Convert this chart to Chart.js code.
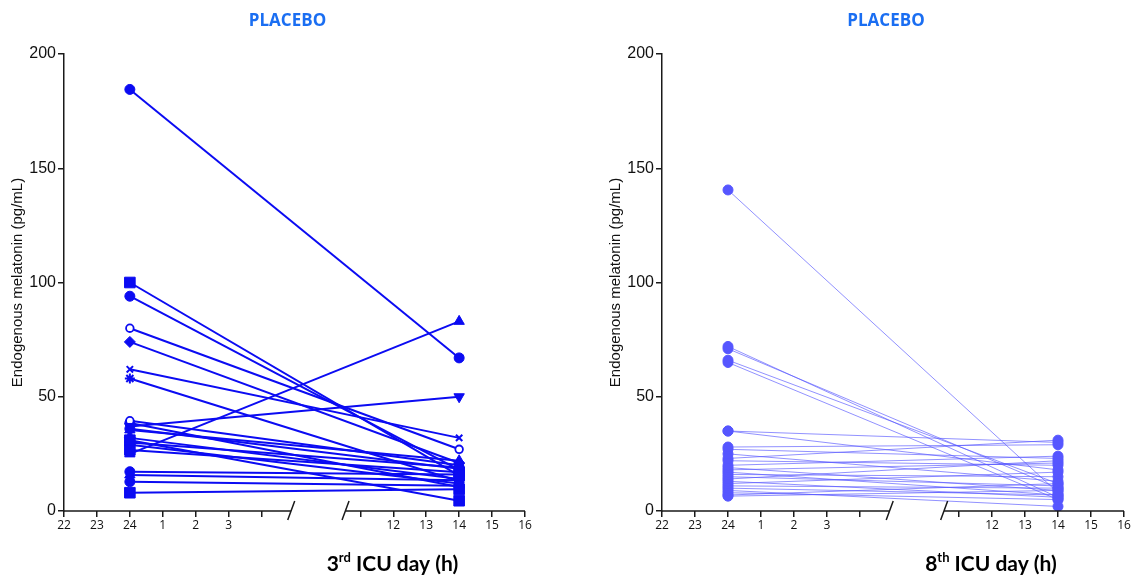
<!DOCTYPE html>
<html>
<head>
<meta charset="utf-8">
<script src="https://cdn.jsdelivr.net/npm/chart.js@4.4.1/dist/chart.umd.min.js"></script>
<style>
  html, body { margin: 0; padding: 0; background: #fff; }
  #wrap { position: relative; width: 1137px; height: 578px; }
  .panel { position: absolute; top: 0; height: 578px; }
  #p3 { left: 0; width: 598px; }
  #p8 { left: 598px; width: 539px; }
</style>
</head>
<body>
<div id="wrap">
  <div class="panel" id="p3"><canvas id="chart3"></canvas></div>
  <div class="panel" id="p8"><canvas id="chart8"></canvas></div>
</div>
<script>
// Hour axis (slots 7 and 8 are the axis break)
const hourLabels = ['22', '23', '24', '1', '2', '3', '', '', '', '', '12', '13', '14', '15', '16'];
const tickSlots = [0, 1, 2, 3, 4, 5, 6, 9, 10, 11, 12, 13, 14];
const sampleHours = ['24', '14'];
const yTicks = [0, 50, 100, 150, 200];

// 3rd ICU day, one value per patient at 24h and at 14h
const day3At24 = [184.5, 100, 94, 80, 74, 62, 58, 25, 37, 31, 39.5, 36, 35.5, 32, 30, 29, 26.7, 38.5, 17.2, 15.8, 12.8, 8];
const day3At14 = [67, 15.5, 18, 27, 21, 32, 13, 83, 50, 4.5, 20, 18.5, 22, 14, 19, 12, 17, 10.5, 16, 13.5, 11, 9.5];
const day3Symbols = ['circle', 'rect', 'circle', 'open', 'rectRot', 'crossRot', 'star', 'triangle', 'triangleDown', 'rect',
  'open', 'circle', 'triangle', 'rectRot', 'circle', 'triangleDown', 'rect', 'circle', 'circle', 'triangle', 'circle', 'rect'];

// 8th ICU day
const day8At24 = [140.5, 72, 71, 66, 65, 35, 35, 28, 27, 25, 23, 22, 20, 19, 18, 17, 16, 15, 14, 13, 12, 11, 10, 9, 8, 7, 6.5];
const day8At14 = [8, 6, 10, 12, 5, 30, 18, 29, 23, 13, 31, 20, 24, 9, 21, 7, 15, 11, 22, 6, 17, 10, 7, 2, 5, 12, 9];

const BLUE3 = '#0b0bf2';
const BLUE8 = '#5656ff';
const TITLE_BLUE = '#1a6ef2';

// marker size per symbol so that all look about the same
const symbolRadius = { circle: 5, open: 3.8, rect: 7.5, rectRot: 5.5, crossRot: 4.5, star: 5, triangle: 6, triangleDown: 6 };

function slotOf(h) { return hourLabels.indexOf(h); }

function makeDatasets(start, end, symbols, style) {
  return start.map((v, i) => {
    const sym = symbols ? symbols[i] : 'circle';
    const open = sym === 'open';
    const down = sym === 'triangleDown';
    return {
      data: [
        { x: slotOf(sampleHours[0]), y: v },
        { x: slotOf(sampleHours[1]), y: end[i] }
      ],
      borderColor: style.line,
      borderWidth: style.width,
      pointStyle: open ? 'circle' : (down ? 'triangle' : sym),
      pointRotation: down ? 180 : 0,
      pointRadius: symbols ? symbolRadius[sym] : style.radius,
      pointBorderColor: style.point,
      pointBorderWidth: open ? 1.8 : (sym === 'crossRot' || sym === 'star' ? 2 : 1),
      pointBackgroundColor: open ? '#ffffff' : style.point,
      showLine: true,
      fill: false,
      tension: 0
    };
  });
}

// draws the broken x axis, the panel heading and the x axis title
const panelDecor = {
  id: 'panelDecor',
  afterDraw(chart, args, opts) {
    const { ctx, chartArea } = chart;
    const xs = chart.scales.x;
    const y0 = chartArea.bottom;
    const b1 = xs.getPixelForValue(6.9);
    const b2 = xs.getPixelForValue(8.55);
    ctx.save();
    ctx.strokeStyle = '#1a1a1a';
    ctx.lineWidth = 1.5;
    ctx.beginPath();
    ctx.moveTo(chartArea.left, y0); ctx.lineTo(b1, y0);
    ctx.moveTo(b2, y0); ctx.lineTo(chartArea.right, y0);
    // break slashes
    ctx.moveTo(b1 - 3.5, y0 + 9); ctx.lineTo(b1 + 3.5, y0 - 10);
    ctx.moveTo(b2 - 3.5, y0 + 9); ctx.lineTo(b2 + 3.5, y0 - 10);
    ctx.stroke();

    const mid = (chartArea.left + chartArea.right) / 2;
    ctx.fillStyle = TITLE_BLUE;
    ctx.font = 'bold 17px "Open Sans", "Liberation Sans", sans-serif';
    ctx.textAlign = 'center';
    ctx.textBaseline = 'middle';
    ctx.fillText(opts.heading, mid - 7, 21);

    // x axis title with superscript
    const big = 'bold 21px Lato, "Open Sans", sans-serif';
    const small = 'bold 13px Lato, "Open Sans", sans-serif';
    ctx.textAlign = 'left';
    ctx.textBaseline = 'alphabetic';
    ctx.fillStyle = '#000';
    ctx.font = big; const w1 = ctx.measureText(opts.day).width;
    const w3 = ctx.measureText(opts.rest).width;
    ctx.font = small; const w2 = ctx.measureText(opts.sup).width;
    let x = mid + 98 - (w1 + w2 + w3) / 2;
    const base = 571;
    ctx.font = big; ctx.fillText(opts.day, x, base); x += w1;
    ctx.font = small; ctx.fillText(opts.sup, x, base - 9); x += w2;
    ctx.font = big; ctx.fillText(opts.rest, x, base);
    ctx.restore();
  }
};

function buildChart(canvasId, datasets, rightPad, decor) {
  return new Chart(document.getElementById(canvasId), {
    type: 'scatter',
    data: { datasets },
    plugins: [panelDecor],
    options: {
      responsive: true,
      maintainAspectRatio: false,
      animation: false,
      layout: { padding: { top: 54, left: 0, right: rightPad, bottom: 0 } },
      plugins: {
        legend: { display: false },
        tooltip: { enabled: false },
        panelDecor: decor
      },
      scales: {
        x: {
          type: 'linear',
          min: 0,
          max: 14,
          afterBuildTicks: (scale) => { scale.ticks = tickSlots.map(v => ({ value: v })); },
          afterFit: (scale) => { scale.height = 67; },
          border: { display: false },
          grid: { drawOnChartArea: false, drawTicks: true, tickLength: 6, color: '#1a1a1a', lineWidth: 1.5 },
          ticks: {
            autoSkip: false,
            maxRotation: 0,
            padding: 1,
            color: '#111',
            font: { family: '"Open Sans", "Liberation Sans", sans-serif', size: 12 },
            callback: (v) => hourLabels[v]
          }
        },
        y: {
          min: 0,
          max: 200,
          afterBuildTicks: (scale) => { scale.ticks = yTicks.map(v => ({ value: v })); },
          afterFit: (scale) => { scale.width = 64; },
          border: { display: true, color: '#1a1a1a', width: 1.5 },
          grid: { drawOnChartArea: false, drawTicks: true, tickLength: 6, color: '#1a1a1a', lineWidth: 1.5 },
          ticks: {
            padding: 2,
            color: '#111',
            font: { family: '"Liberation Sans", Arial, sans-serif', size: 16 }
          },
          title: {
            display: true,
            text: 'Endogenous melatonin (pg/mL)',
            color: '#111',
            font: { family: '"Liberation Sans", Arial, sans-serif', size: 15 },
            padding: { top: 9, bottom: 0 }
          }
        }
      }
    }
  });
}

buildChart('chart3',
  makeDatasets(day3At24, day3At14, day3Symbols, { line: BLUE3, point: BLUE3, width: 2, radius: 5 }),
  73, { heading: 'PLACEBO', day: '3', sup: 'rd', rest: ' ICU day (h)' });

buildChart('chart8',
  makeDatasets(day8At24, day8At14, null, { line: 'rgba(86, 86, 255, 0.65)', point: BLUE8, width: 1, radius: 5 }),
  13, { heading: 'PLACEBO', day: '8', sup: 'th', rest: ' ICU day (h)' });
</script>
</body>
</html>
